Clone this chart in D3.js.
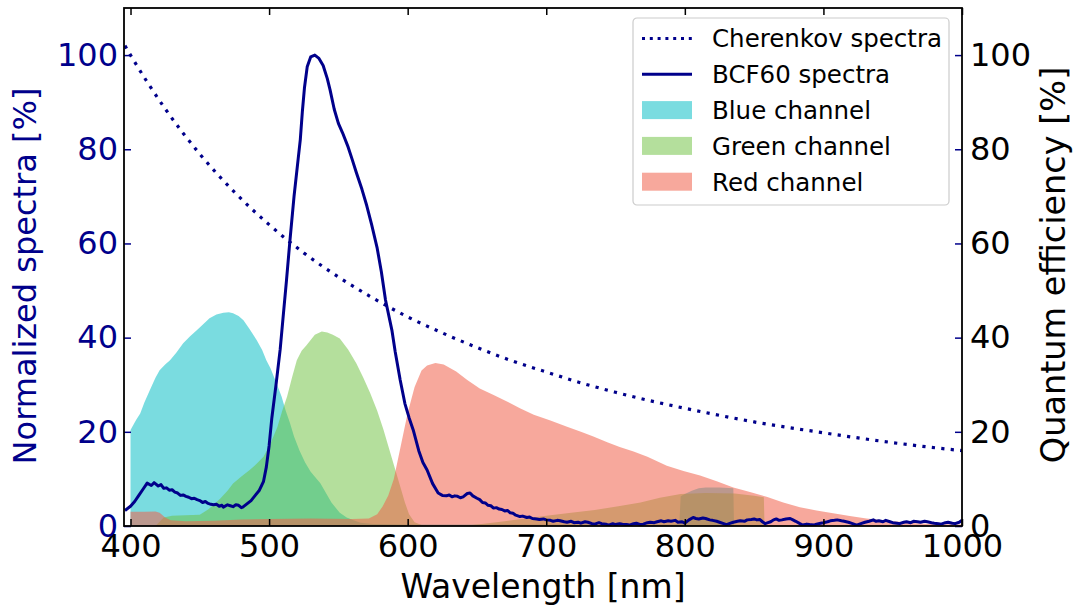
<!DOCTYPE html>
<html>
<head>
<meta charset="utf-8">
<script src="https://cdn.jsdelivr.net/npm/d3@7"></script>
<style>
  body { margin: 0; background: #fff; }
  svg { display: block; font-family: "DejaVu Sans", sans-serif; }
</style>
</head>
<body>
<svg id="chart" width="1075" height="609"></svg>
<script>
// values, [wavelength nm, percent]
const cherenkov = [
  [396, 102], [400, 100], [425, 88.6], [450, 79], [475, 70.9], [500, 64], [525, 58],
  [550, 52.9], [575, 48.4], [600, 44.4], [625, 41], [650, 37.9], [675, 35.1],
  [700, 32.7], [725, 30.4], [750, 28.4], [775, 26.6], [800, 25], [825, 23.5],
  [850, 22.1], [875, 20.9], [900, 19.8], [925, 18.7], [950, 17.7], [975, 16.8], [1000, 16]
]

const bcf60 = [
  [396, 3.3], [400, 4.2], [403, 5.2], [406, 6.5], [409, 7.8], [412, 9.1], [415, 8.6], [417, 9.2],
  [420, 8.5], [422, 8.8], [424, 8.0], [426, 8.1], [428, 7.6], [430, 7.7], [432, 7.2], [434, 7.0],
  [436, 6.5], [438, 6.6], [440, 6.3], [442, 6.1], [444, 5.8], [446, 5.9], [448, 5.6], [450, 5.4],
  [452, 5.0], [454, 5.2], [456, 4.8], [458, 4.6], [460, 4.5], [462, 4.6], [464, 4.2], [466, 4.4],
  [467, 4.0], [470, 4.5], [472, 4.3], [474, 4.1], [476, 4.5], [478, 4.4], [480, 3.9], [481, 4.0],
  [484, 4.7], [487, 5.4], [490, 6.5], [493, 7.6], [496, 9.5], [498, 12.5], [500, 17],
  [502, 23], [505, 30], [508, 37.5], [510, 44], [512.5, 52], [515, 60.5], [518, 70], [521, 78],
  [522.5, 82], [524, 88], [525.5, 93], [527.5, 97.5], [530, 99.6], [533, 100], [536, 99.3],
  [539, 97.8], [542, 95], [544, 92.6], [547, 88.5], [550, 85.5], [553, 83.5], [557, 80.5],
  [560, 77.8], [563, 75], [567, 71.5], [570.5, 68], [574, 64], [578, 59], [581, 54], [584, 48],
  [588.6, 41.6], [591, 37], [594.6, 31], [598, 26], [601, 23], [604, 20.4], [608, 16], [611, 13.5],
  [614, 11.9], [618, 9], [622, 7], [625, 6.5], [628, 6.4], [630, 6.6], [632, 6.2], [634, 6.4],
  [636, 6.3], [638, 6.0], [640, 6.2], [643, 6.9], [645, 7.0], [647, 6.4], [650, 5.9], [652, 5.6],
  [654, 5.0], [656, 4.9], [658, 4.4], [660, 4.3], [662, 3.8], [664, 3.9], [666, 3.6], [668, 3.5],
  [670, 3.2], [672, 3.3], [674, 2.8], [676, 2.7], [678, 2.3], [681, 2.0], [683, 2.1], [686, 1.8],
  [688, 1.9], [690, 1.6], [693, 1.5], [695, 1.4], [698, 1.5], [700, 1.3], [703, 1.2], [705, 1.0],
  [708, 1.2], [710, 1.1], [713, 0.9], [715, 0.8], [718, 1.0], [720, 0.7], [723, 0.8], [725, 0.6],
  [728, 0.9], [730, 0.8], [733, 0.5], [735, 0.4], [738, 0.7], [740, 0.5], [743, 0.4], [745, 0.2],
  [748, 0.5], [750, 0.3], [753, 0.5], [755, 0.4], [758, 0.3], [760, 0.2], [763, 0.5], [765, 0.6],
  [768, 0.3], [770, 0.4], [773, 0.7], [775, 0.8], [778, 0.7], [780, 0.9], [783, 1.1], [785, 0.9],
  [788, 1.1], [790, 1.0], [793, 1.2], [795, 0.8], [798, 0.9], [800, 0.6], [803, 1.3], [806, 1.8],
  [808, 1.6], [810, 1.5], [813, 1.7], [815, 1.6], [818, 1.3], [820, 1.2], [823, 1.0], [825, 0.8],
  [828, 0.5], [830, 0.3], [833, 0.6], [835, 0.8], [838, 1.0], [840, 1.1], [843, 1.0], [845, 1.3],
  [848, 1.4], [850, 1.5], [852, 1.3], [854, 1.4], [856, 0.9], [858, 0.5], [860, 0.7], [862, 0.9],
  [864, 1.3], [866, 1.5], [868, 1.2], [870, 1.3], [873, 1.5], [876, 1.6], [878, 1.3], [880, 1.0],
  [883, 0.5], [885, 0.2], [888, 0.4], [890, 0.3], [893, 0.2], [895, 0.4], [898, 0.6], [900, 0.7],
  [903, 0.9], [905, 1.1], [908, 1.2], [910, 1.3], [913, 1.1], [915, 1.0], [918, 0.8], [920, 0.6],
  [922, 0.4], [924, 0.2], [927, 0.5], [930, 0.8], [933, 1.0], [936, 1.3], [938, 1.0], [940, 1.1],
  [943, 0.9], [945, 1.2], [948, 0.9], [950, 0.7], [953, 0.6], [955, 0.5], [958, 0.8], [960, 0.9],
  [963, 0.7], [965, 1.0], [968, 0.9], [970, 0.8], [973, 1.0], [975, 0.9], [978, 0.7], [980, 0.6],
  [983, 0.5], [985, 0.4], [988, 0.7], [990, 0.8], [993, 0.6], [995, 0.5], [998, 0.8], [1000, 1.2]
]

const blueChannel = [
  [400, 20.4], [404, 22.5], [407, 23.9], [410, 26.2], [414, 28.9], [418, 31.5], [421, 33.1],
  [425, 34.3], [428.5, 35.2], [433, 36.8], [438, 38.8], [443, 40.3], [448, 41.6], [453, 43.0],
  [457, 44.1], [462, 44.9], [467, 45.3], [471, 45.4], [474, 45.2], [478, 44.6], [481.5, 43.7],
  [486, 41.8], [491, 39.5], [495, 37.4], [498, 35.2], [501, 33.5], [505, 30.6], [509, 27.5],
  [512, 24.5], [515, 21.9], [518, 19], [522, 16], [526, 13.5], [530, 11.5], [537, 9.1], [545, 5],
  [551, 2.8], [556, 1.8], [561, 1.2], [566, 0.7], [575, 0.4], [600, 0.3], [700, 0.3], [790, 0.3],
  [796, 0.4], [797, 6.3], [800, 6.8], [805, 7.5], [810, 8.0], [815, 8.2], [825, 8.2], [835, 8.0],
  [835.5, 0], [1000, 0]
]

const greenChannel = [
  [400, 0], [418, 0], [424, 1.8], [430, 2.2], [440, 2.3], [450, 2.4], [456, 3.5], [461, 4.8],
  [465, 5.9], [470, 7.5], [474, 9], [480, 10.5], [486, 11.9], [491, 13.2], [496, 14.7], [501, 17.5],
  [506, 21], [509.5, 24.5], [513, 27.5], [516.5, 31.5], [520, 35.2], [523.5, 37.2], [527, 38.4],
  [533, 40.6], [538, 41.3], [542, 41.1], [546, 40.6], [551, 39.8], [557, 37.5], [563, 34.5],
  [568, 31.5], [573, 28.2], [578, 24.5], [582.5, 20.5], [586, 17], [590, 13], [592.5, 10.5],
  [595, 8], [598, 5], [601, 2.5], [605, 0.8], [610, 0.2], [620, 0], [640, 0], [655, 0.5],
  [670, 1.0], [685, 1.6], [700, 2.2], [718, 2.8], [735, 3.4], [752, 4.2], [768, 5.0], [782, 6.0],
  [797, 6.8], [815, 7.0], [836, 6.9], [850, 6.4], [857, 6.1], [857.5, 0], [1000, 0]
]

const redChannel = [
  [400, 3.0], [410, 3.0], [418, 3.1], [421, 2.8], [425, 1.8], [429, 1.2], [440, 1.0], [460, 1.1],
  [480, 1.4], [500, 1.5], [530, 1.6], [560, 1.5], [572, 1.6], [578, 2.5], [582, 4.2], [586, 6.5],
  [590, 10], [595, 17], [600, 24], [605, 29.5], [610, 33], [614, 34.1], [620, 34.6], [626, 34.3],
  [635, 32.8], [643, 31], [652, 29.2], [662, 27.8], [672, 26.4], [681, 25], [691, 23.6],
  [703, 22.4], [715, 21.1], [725, 20], [734, 19], [744, 17.8], [753, 16.8], [763, 15.8],
  [773, 14.7], [787, 12.8], [799, 11.7], [811, 10.7], [823, 9.5], [835, 8.2], [847, 7.2],
  [859, 6.2], [871, 5.0], [883, 4.0], [895, 3.3], [907, 2.7], [919, 2.1], [931, 1.6], [943, 1.2],
  [955, 0.9], [967, 0.6], [980, 0.4], [1000, 0.3]
]

const xTicks = [400, 500, 600, 700, 800, 900, 1000]
const yTicks = [0, 20, 40, 60, 80, 100]
const legendLabels = ['Cherenkov spectra', 'BCF60 spectra', 'Blue channel', 'Green channel', 'Red channel']

const navy = '#00008b'
const fills = {
  blue: { color: '#00bcc4', opacity: 0.52 },
  green: { color: '#6abf3a', opacity: 0.5 },
  red: { color: '#f0604a', opacity: 0.55 },
}

const svg = d3.select('#chart')
const plot = { left: 124, right: 962, top: 8, bottom: 526 }

const x = d3.scaleLinear().domain([395.3, 1000]).range([plot.left, plot.right])
const yL = d3.scaleLinear().domain([0, 110]).range([plot.bottom, plot.top])
const yR = d3.scaleLinear().domain([0, 110]).range([plot.bottom, plot.top])

svg.append('clipPath').attr('id', 'clip')
  .append('rect')
  .attr('x', plot.left).attr('y', plot.top)
  .attr('width', plot.right - plot.left).attr('height', plot.bottom - plot.top)

const g = svg.append('g').attr('clip-path', 'url(#clip)')

const area = d3.area()
  .x((d) => x(d[0]))
  .y0(yR(0))
  .y1((d) => yR(d[1]))

const channels = [
  { data: blueChannel, style: fills.blue },
  { data: greenChannel, style: fills.green },
  { data: redChannel, style: fills.red },
]
channels.forEach((c) => {
  g.append('path')
    .attr('d', area(c.data))
    .attr('fill', c.style.color)
    .attr('fill-opacity', c.style.opacity)
})

const dots = '3.2 6.3'

g.append('path')
  .attr('d', d3.line().x((d) => x(d[0])).y((d) => yL(d[1])).curve(d3.curveMonotoneX)(cherenkov))
  .attr('fill', 'none')
  .attr('stroke', navy)
  .attr('stroke-width', 3.2)
  .attr('stroke-dasharray', dots)

g.append('path')
  .attr('d', d3.line().x((d) => x(d[0])).y((d) => yL(d[1]))(bcf60))
  .attr('fill', 'none')
  .attr('stroke', navy)
  .attr('stroke-width', 3)
  .attr('stroke-linejoin', 'round')

// axes, ticks pointing inwards
const tickLen = 7
const fontTick = 32

const styleAxis = (sel, color, tickColor) => {
  sel.select('.domain').remove()
  sel.selectAll('.tick line').attr('stroke', tickColor).attr('stroke-width', 1.5)
  sel.selectAll('.tick text').attr('fill', color).style('font-size', fontTick + 'px')
    .style('font-family', '"DejaVu Sans", sans-serif')
}

svg.append('g')
  .attr('transform', `translate(0,${plot.bottom})`)
  .call(d3.axisBottom(x).tickValues(xTicks).tickFormat(d3.format('d')).tickSize(-tickLen).tickPadding(8))
  .call((s) => styleAxis(s, '#000', '#000'))

svg.append('g')
  .attr('transform', `translate(0,${plot.top})`)
  .call(d3.axisTop(x).tickValues(xTicks).tickFormat('').tickSize(-tickLen))
  .call((s) => styleAxis(s, '#000', '#000'))

svg.append('g')
  .attr('transform', `translate(${plot.left},0)`)
  .call(d3.axisLeft(yL).tickValues(yTicks).tickSize(-tickLen).tickPadding(6))
  .call((s) => styleAxis(s, navy, navy))

svg.append('g')
  .attr('transform', `translate(${plot.right},0)`)
  .call(d3.axisRight(yR).tickValues(yTicks).tickSize(-tickLen).tickPadding(8))
  .call((s) => styleAxis(s, '#000', navy))

svg.append('rect')
  .attr('x', plot.left).attr('y', plot.top)
  .attr('width', plot.right - plot.left).attr('height', plot.bottom - plot.top)
  .attr('fill', 'none').attr('stroke', '#000').attr('stroke-width', 1.8)

// axis labels
svg.append('text')
  .attr('x', (plot.left + plot.right) / 2).attr('y', 598)
  .attr('text-anchor', 'middle').style('font-size', '33px')
  .text('Wavelength [nm]')

svg.append('text')
  .attr('transform', `translate(36,276) rotate(-90)`)
  .attr('text-anchor', 'middle').attr('fill', navy).style('font-size', '32px')
  .text('Normalized spectra [%]')

svg.append('text')
  .attr('transform', `translate(1065,265) rotate(-90)`)
  .attr('text-anchor', 'middle').style('font-size', '33.5px')
  .text('Quantum efficiency [%]')

// legend
const lg = svg.append('g').attr('transform', 'translate(633,18)')
lg.append('rect')
  .attr('width', 316).attr('height', 187).attr('rx', 4)
  .attr('fill', '#fff').attr('fill-opacity', 0.8)
  .attr('stroke', '#cccccc').attr('stroke-width', 1.2)

const rowY = (i) => 20.5 + i * 35.8
legendLabels.forEach((label, i) => {
  const yy = rowY(i)
  if (i === 0) {
    lg.append('line').attr('x1', 9).attr('x2', 59).attr('y1', yy).attr('y2', yy)
      .attr('stroke', navy).attr('stroke-width', 3).attr('stroke-dasharray', '3 4.8')
  } else if (i === 1) {
    lg.append('line').attr('x1', 9).attr('x2', 59).attr('y1', yy).attr('y2', yy)
      .attr('stroke', navy).attr('stroke-width', 3)
  } else {
    const st = channels[i - 2].style
    lg.append('rect').attr('x', 9).attr('y', yy - 9).attr('width', 50).attr('height', 18)
      .attr('fill', st.color).attr('fill-opacity', st.opacity)
  }
  lg.append('text')
    .attr('x', 79).attr('y', yy).attr('dy', '0.36em')
    .style('font-size', '24.5px')
    .text(label)
})
</script>
</body>
</html>
